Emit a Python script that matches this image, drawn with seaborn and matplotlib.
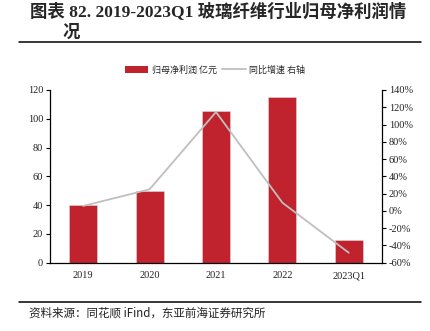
import matplotlib
matplotlib.use("Agg")
import matplotlib.pyplot as plt
import seaborn as sns
import pandas as pd
from matplotlib.patches import Patch
from matplotlib.lines import Line2D
from matplotlib.ticker import FuncFormatter

categories = ["2019", "2020", "2021", "2022", "2023Q1"]
profit = [40.0, 49.5, 105.5, 115.2, 15.5]
growth = [5.7, 25.0, 114.5, 9.5, -48.5]

title_line1 = "图表 82. 2019-2023Q1 玻璃纤维行业归母净利润情"
title_line2 = "况"
legend_bar = "归母净利润 亿元"
legend_line = "同比增速 右轴"
source = "资料来源：同花顺 iFind，东亚前海证券研究所"

sns.set_theme(style="white")
plt.rcParams['font.family'] = ['Liberation Serif', 'Noto Sans CJK SC', 'DejaVu Sans']

bar_color = "#C0232E"
line_color = "#BFBFBF"

fig = plt.figure(figsize=(4.30, 3.31), dpi=100)
ax = fig.add_axes([50/430, 1-262.7/331, 332/430, 172.7/331])

df = pd.DataFrame({"cat": categories, "profit": profit, "growth": growth})
sns.barplot(data=df, x="cat", y="profit", ax=ax, color=bar_color, width=0.42,
            saturation=1, edgecolor="#d9d9d9", linewidth=0.4)
ax.set_ylim(0, 120)
ax.set_yticks(range(0, 121, 20))
ax.set_xlabel("")
ax.set_ylabel("")

ax2 = ax.twinx()
sns.lineplot(x=list(range(len(categories))), y=growth, ax=ax2, color=line_color,
             linewidth=1.3, sort=False)
ax2.set_ylim(-60, 140)
ax2.set_yticks(range(-60, 141, 20))
ax2.yaxis.set_major_formatter(FuncFormatter(lambda v, p: f"{int(v)}%"))
ax.set_xlim(-0.5, len(categories) - 0.5)

for a in (ax, ax2):
    a.spines["top"].set_visible(False)
    for s in ["left", "right", "bottom"]:
        a.spines[s].set_color("#000000")
        a.spines[s].set_linewidth(0.9)
ax.spines["right"].set_visible(False)
ax2.spines["left"].set_visible(False)
ax2.spines["bottom"].set_visible(False)

ax.tick_params(axis="y", direction="out", length=3, width=0.8, color="black",
               labelsize=7.5, pad=2, left=True)
ax.tick_params(axis="x", length=0, labelsize=7.5, pad=6)
ax2.tick_params(axis="y", direction="out", length=3, width=0.8, color="black",
                labelsize=7.5, pad=2, right=True)
for lab in ax.get_xticklabels() + ax.get_yticklabels() + ax2.get_yticklabels():
    lab.set_color("#222222")

handles = [Patch(facecolor=bar_color, edgecolor="none"),
           Line2D([0], [0], color=line_color, lw=1.3)]
fig.legend(handles, [legend_bar, legend_line], loc="center",
           bbox_to_anchor=(0.5, 1-70/331), ncol=2, frameon=False,
           prop={"family": ["Noto Sans CJK SC"], "size": 6.5},
           handlelength=2.6, handleheight=0.8, columnspacing=0.6, handletextpad=0.4)

fig.text(30/430, 1-11/331, title_line1, ha="left", va="center", fontsize=12.5,
         fontweight="bold", family=["Liberation Serif", "Noto Sans CJK SC"])
fig.text(62/430, 1-32/331, title_line2, ha="left", va="center", fontsize=12.5,
         fontweight="bold", family=["Noto Sans CJK SC"])
fig.add_artist(Line2D([19/430, 421/430], [1-42/331, 1-42/331], color="black", lw=1.1))
fig.add_artist(Line2D([19/430, 421/430], [1-302/331, 1-302/331], color="black", lw=1.1))
fig.text(29/430, 1-313/331, source, ha="left", va="center", fontsize=8.3,
         family=["Noto Sans CJK SC", "Liberation Serif"], color="#222222")

fig.savefig("out.png", dpi=100)
